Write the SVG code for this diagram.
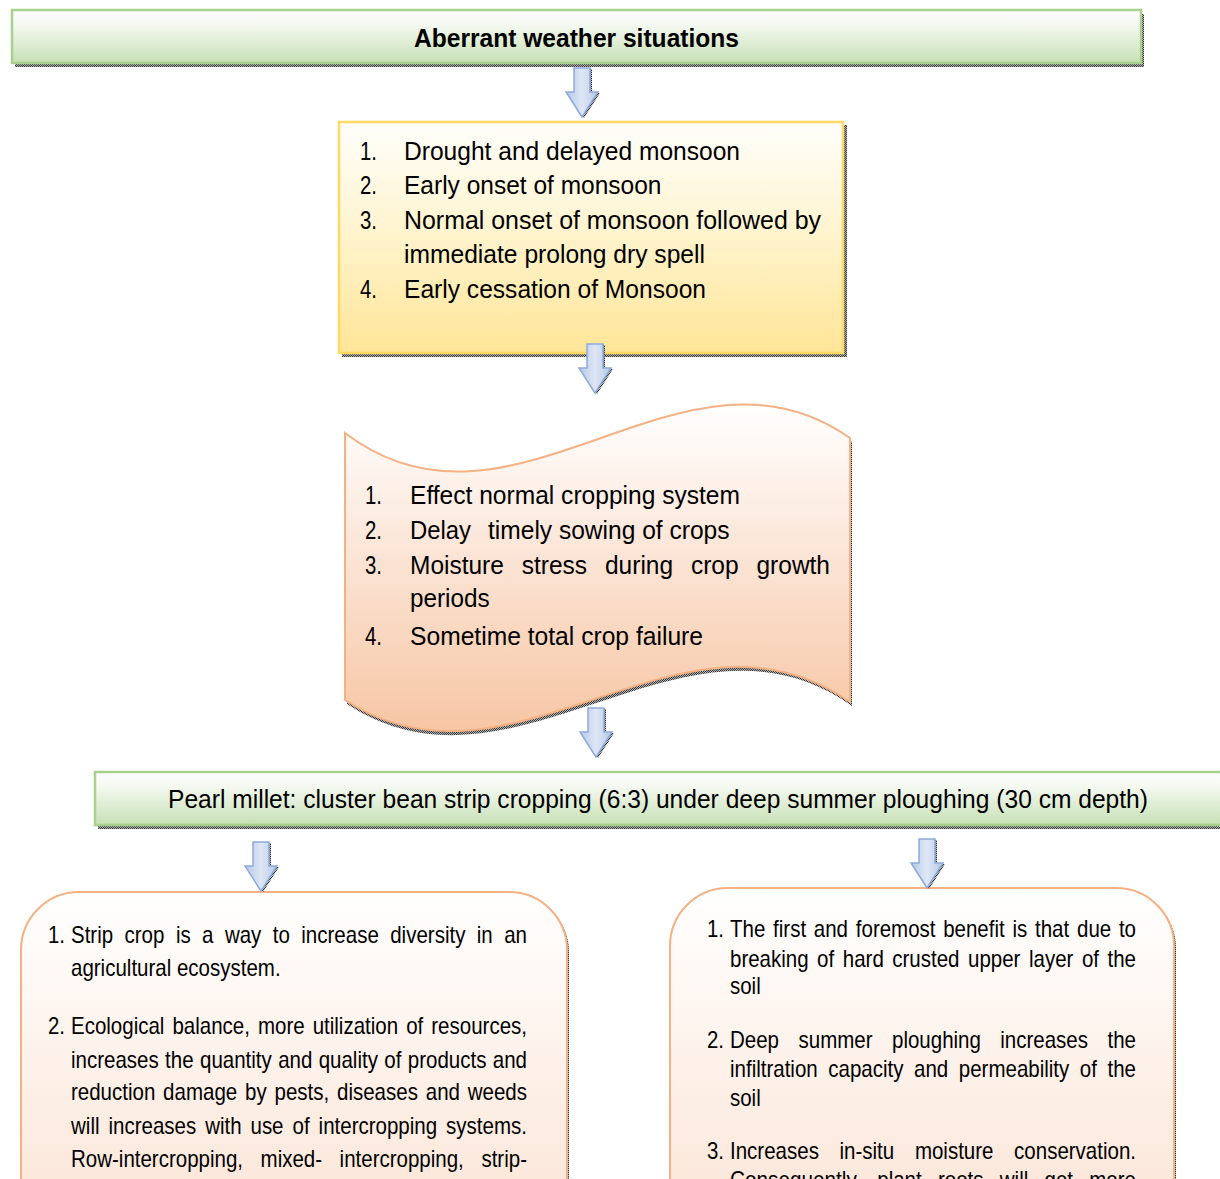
<svg xmlns="http://www.w3.org/2000/svg" xmlns:xlink="http://www.w3.org/1999/xlink" width="1220" height="1179" viewBox="0 0 1220 1179">
<style>
.t{font-family:"Liberation Sans Narrow","Liberation Sans",Arial,sans-serif;fill:#000;}
.b{font-weight:bold;}
.s26{font-size:26px;}
.s24{font-size:24px;}
.bar{fill:url(#gGreen);stroke:#a9d18e;stroke-width:2.5;}
.shadow{fill:url(#hatch);}
.arrow{fill:url(#gArrow);stroke:#8eaadb;stroke-width:1.5;stroke-linejoin:miter;}
</style>
<defs>
<pattern id="hatch" width="2" height="2" patternUnits="userSpaceOnUse">
<rect width="2" height="2" fill="#b0b0b0"/>
<rect width="1" height="1" fill="#3a3a3a"/>
<rect x="1" y="1" width="1" height="1" fill="#3a3a3a"/>
</pattern>
<linearGradient id="gGreen" x1="0" y1="0" x2="0" y2="1">
<stop offset="0" stop-color="#fefefe"/>
<stop offset="0.3" stop-color="#f3f8ef"/>
<stop offset="1" stop-color="#c6e0b4"/>
</linearGradient>
<linearGradient id="gYellow" x1="0" y1="0" x2="0" y2="1">
<stop offset="0" stop-color="#fffefb"/>
<stop offset="0.4" stop-color="#fff6d6"/>
<stop offset="1" stop-color="#ffe597"/>
</linearGradient>
<linearGradient id="gPeach" x1="0" y1="0" x2="0" y2="1">
<stop offset="0" stop-color="#ffffff"/>
<stop offset="0.35" stop-color="#fcebe0"/>
<stop offset="1" stop-color="#f7c6a4"/>
</linearGradient>
<linearGradient id="gPeachLight" gradientUnits="userSpaceOnUse" x1="0" y1="890" x2="0" y2="1260">
<stop offset="0" stop-color="#ffffff"/>
<stop offset="1" stop-color="#fbe2d2"/>
</linearGradient>
<linearGradient id="gArrow" x1="0" y1="0" x2="1" y2="0">
<stop offset="0" stop-color="#b4c7e7"/>
<stop offset="0.5" stop-color="#dfe7f6"/>
<stop offset="1" stop-color="#b4c7e7"/>
</linearGradient>
<path id="arr" d="M-8,0 H8 V24 H16 L0,49 L-16,24 H-8 Z"/>
<path id="wave" d="M345,433 C513,561 682,320 850,438 L850,702 C682,584 513,810 345,700 Z"/>
</defs>

<g id="node-aberrant">
<rect class="shadow" x="15" y="14" width="1129" height="53"/>
<rect class="bar" x="12" y="10" width="1129" height="53"/>
<text class="t b s26" x="414" y="47" textLength="325" lengthAdjust="spacingAndGlyphs">Aberrant weather situations</text>
</g>

<g id="node-situations">
<rect class="shadow" x="342" y="125" width="505" height="232"/>
<rect x="339" y="122" width="504" height="231" fill="url(#gYellow)" stroke="#ffd966" stroke-width="2.5"/>
<text class="t s26" x="360" y="160" textLength="17" lengthAdjust="spacingAndGlyphs">1.</text>
<text class="t s26" x="404" y="160" textLength="336" lengthAdjust="spacingAndGlyphs">Drought and delayed monsoon</text>
<text class="t s26" x="360" y="194" textLength="17" lengthAdjust="spacingAndGlyphs">2.</text>
<text class="t s26" x="404" y="194" textLength="257.5" lengthAdjust="spacingAndGlyphs">Early onset of monsoon</text>
<text class="t s26" x="360" y="229" textLength="17" lengthAdjust="spacingAndGlyphs">3.</text>
<text class="t s26" x="404" y="229" textLength="417" lengthAdjust="spacingAndGlyphs">Normal onset of monsoon followed by</text>
<text class="t s26" x="404" y="263" textLength="301" lengthAdjust="spacingAndGlyphs">immediate prolong dry spell</text>
<text class="t s26" x="360" y="298" textLength="17" lengthAdjust="spacingAndGlyphs">4.</text>
<text class="t s26" x="404" y="298" textLength="302" lengthAdjust="spacingAndGlyphs">Early cessation of Monsoon</text>
</g>

<g id="node-effects">
<use href="#wave" class="shadow" transform="translate(2,4)"/>
<use href="#wave" fill="url(#gPeach)" stroke="#f4b183" stroke-width="2"/>
<text class="t s26" x="365" y="504" textLength="17" lengthAdjust="spacingAndGlyphs">1.</text>
<text class="t s26" x="410" y="504" textLength="330" lengthAdjust="spacingAndGlyphs">Effect normal cropping system</text>
<text class="t s26" x="365" y="539" textLength="17" lengthAdjust="spacingAndGlyphs">2.</text>
<text class="t s26" y="539"><tspan x="410" textLength="61" lengthAdjust="spacingAndGlyphs">Delay</tspan> <tspan x="488" textLength="241.5" lengthAdjust="spacingAndGlyphs">timely sowing of crops</tspan></text>
<text class="t s26" x="365" y="574" textLength="17" lengthAdjust="spacingAndGlyphs">3.</text>
<text class="t s26" y="574"><tspan x="410" textLength="93.9" lengthAdjust="spacingAndGlyphs">Moisture</tspan> <tspan x="521.8" textLength="65.3" lengthAdjust="spacingAndGlyphs">stress</tspan> <tspan x="605" textLength="68.1" lengthAdjust="spacingAndGlyphs">during</tspan> <tspan x="690.9" textLength="47.7" lengthAdjust="spacingAndGlyphs">crop</tspan> <tspan x="756.5" textLength="73.5" lengthAdjust="spacingAndGlyphs">growth</tspan></text>
<text class="t s26" x="410" y="607" textLength="79.6" lengthAdjust="spacingAndGlyphs">periods</text>
<text class="t s26" x="365" y="645" textLength="17" lengthAdjust="spacingAndGlyphs">4.</text>
<text class="t s26" x="410" y="645" textLength="293" lengthAdjust="spacingAndGlyphs">Sometime total crop failure</text>
</g>

<g id="node-pearl-millet">
<rect class="shadow" x="98" y="776" width="1130" height="53"/>
<rect class="bar" x="95" y="772" width="1135" height="53"/>
<text class="t s26" x="168" y="808" textLength="980" lengthAdjust="spacingAndGlyphs">Pearl millet: cluster bean strip cropping (6:3) under deep summer ploughing (30 cm depth)</text>
</g>

<g id="node-strip-crop">
<rect class="shadow" x="23" y="894" width="546" height="400" rx="58"/>
<rect x="21" y="892" width="546" height="400" rx="58" fill="url(#gPeachLight)" stroke="#f4b183" stroke-width="2"/>
<text class="t s24" x="48" y="943" textLength="17" lengthAdjust="spacingAndGlyphs">1.</text>
<text class="t s24" y="943"><tspan x="71" textLength="42.1" lengthAdjust="spacingAndGlyphs">Strip</tspan> <tspan x="124.5" textLength="39.9" lengthAdjust="spacingAndGlyphs">crop</tspan> <tspan x="175.9" textLength="14.8" lengthAdjust="spacingAndGlyphs">is</tspan> <tspan x="202.1" textLength="11.4" lengthAdjust="spacingAndGlyphs">a</tspan> <tspan x="224.9" textLength="36.4" lengthAdjust="spacingAndGlyphs">way</tspan> <tspan x="272.8" textLength="17.1" lengthAdjust="spacingAndGlyphs">to</tspan> <tspan x="301.3" textLength="77.5" lengthAdjust="spacingAndGlyphs">increase</tspan> <tspan x="390.2" textLength="75.2" lengthAdjust="spacingAndGlyphs">diversity</tspan> <tspan x="476.8" textLength="15.9" lengthAdjust="spacingAndGlyphs">in</tspan> <tspan x="504.2" textLength="22.8" lengthAdjust="spacingAndGlyphs">an</tspan></text>
<text class="t s24" x="71" y="976" textLength="209.6" lengthAdjust="spacingAndGlyphs">agricultural ecosystem.</text>
<text class="t s24" x="48" y="1034" textLength="17" lengthAdjust="spacingAndGlyphs">2.</text>
<text class="t s24" y="1034"><tspan x="71" textLength="93.4" lengthAdjust="spacingAndGlyphs">Ecological</tspan> <tspan x="172.4" textLength="77.5" lengthAdjust="spacingAndGlyphs">balance,</tspan> <tspan x="258" textLength="46.7" lengthAdjust="spacingAndGlyphs">more</tspan> <tspan x="312.7" textLength="85.4" lengthAdjust="spacingAndGlyphs">utilization</tspan> <tspan x="406.2" textLength="17.1" lengthAdjust="spacingAndGlyphs">of</tspan> <tspan x="431.3" textLength="95.7" lengthAdjust="spacingAndGlyphs">resources,</tspan></text>
<text class="t s24" y="1068"><tspan x="71" textLength="87.7" lengthAdjust="spacingAndGlyphs">increases</tspan> <tspan x="165.1" textLength="28.5" lengthAdjust="spacingAndGlyphs">the</tspan> <tspan x="200" textLength="71.8" lengthAdjust="spacingAndGlyphs">quantity</tspan> <tspan x="278.2" textLength="34.2" lengthAdjust="spacingAndGlyphs">and</tspan> <tspan x="318.7" textLength="59.2" lengthAdjust="spacingAndGlyphs">quality</tspan> <tspan x="384.3" textLength="17.1" lengthAdjust="spacingAndGlyphs">of</tspan> <tspan x="407.8" textLength="78.6" lengthAdjust="spacingAndGlyphs">products</tspan> <tspan x="492.8" textLength="34.2" lengthAdjust="spacingAndGlyphs">and</tspan></text>
<text class="t s24" y="1100"><tspan x="71" textLength="84.3" lengthAdjust="spacingAndGlyphs">reduction</tspan> <tspan x="163.1" textLength="74.1" lengthAdjust="spacingAndGlyphs">damage</tspan> <tspan x="245.1" textLength="21.6" lengthAdjust="spacingAndGlyphs">by</tspan> <tspan x="274.5" textLength="54.7" lengthAdjust="spacingAndGlyphs">pests,</tspan> <tspan x="337" textLength="80.9" lengthAdjust="spacingAndGlyphs">diseases</tspan> <tspan x="425.8" textLength="34.2" lengthAdjust="spacingAndGlyphs">and</tspan> <tspan x="467.8" textLength="59.2" lengthAdjust="spacingAndGlyphs">weeds</tspan></text>
<text class="t s24" y="1134"><tspan x="71" textLength="28.5" lengthAdjust="spacingAndGlyphs">will</tspan> <tspan x="108.5" textLength="87.7" lengthAdjust="spacingAndGlyphs">increases</tspan> <tspan x="205.2" textLength="36.4" lengthAdjust="spacingAndGlyphs">with</tspan> <tspan x="250.5" textLength="33" lengthAdjust="spacingAndGlyphs">use</tspan> <tspan x="292.5" textLength="17.1" lengthAdjust="spacingAndGlyphs">of</tspan> <tspan x="318.6" textLength="118.5" lengthAdjust="spacingAndGlyphs">intercropping</tspan> <tspan x="446.1" textLength="80.9" lengthAdjust="spacingAndGlyphs">systems.</tspan></text>
<text class="t s24" y="1167"><tspan x="71" textLength="172" lengthAdjust="spacingAndGlyphs">Row-intercropping,</tspan> <tspan x="260.6" textLength="61.5" lengthAdjust="spacingAndGlyphs">mixed-</tspan> <tspan x="339.6" textLength="124.2" lengthAdjust="spacingAndGlyphs">intercropping,</tspan> <tspan x="481.4" textLength="45.6" lengthAdjust="spacingAndGlyphs">strip-</tspan></text>
</g>

<g id="node-deep-ploughing">
<rect class="shadow" x="672" y="890" width="504" height="400" rx="58"/>
<rect x="670" y="888" width="504" height="400" rx="58" fill="url(#gPeachLight)" stroke="#f4b183" stroke-width="2"/>
<text class="t s24" x="707" y="937" textLength="17" lengthAdjust="spacingAndGlyphs">1.</text>
<text class="t s24" y="937"><tspan x="730" textLength="35.3" lengthAdjust="spacingAndGlyphs">The</tspan> <tspan x="773.1" textLength="33" lengthAdjust="spacingAndGlyphs">first</tspan> <tspan x="813.8" textLength="34.2" lengthAdjust="spacingAndGlyphs">and</tspan> <tspan x="855.8" textLength="79.7" lengthAdjust="spacingAndGlyphs">foremost</tspan> <tspan x="943.2" textLength="61.5" lengthAdjust="spacingAndGlyphs">benefit</tspan> <tspan x="1012.5" textLength="14.8" lengthAdjust="spacingAndGlyphs">is</tspan> <tspan x="1035" textLength="34.2" lengthAdjust="spacingAndGlyphs">that</tspan> <tspan x="1077" textLength="34.2" lengthAdjust="spacingAndGlyphs">due</tspan> <tspan x="1118.9" textLength="17.1" lengthAdjust="spacingAndGlyphs">to</tspan></text>
<text class="t s24" y="967"><tspan x="730" textLength="78.6" lengthAdjust="spacingAndGlyphs">breaking</tspan> <tspan x="817.1" textLength="17.1" lengthAdjust="spacingAndGlyphs">of</tspan> <tspan x="842.8" textLength="41" lengthAdjust="spacingAndGlyphs">hard</tspan> <tspan x="892.3" textLength="67.2" lengthAdjust="spacingAndGlyphs">crusted</tspan> <tspan x="968" textLength="52.4" lengthAdjust="spacingAndGlyphs">upper</tspan> <tspan x="1029" textLength="44.4" lengthAdjust="spacingAndGlyphs">layer</tspan> <tspan x="1081.9" textLength="17.1" lengthAdjust="spacingAndGlyphs">of</tspan> <tspan x="1107.5" textLength="28.5" lengthAdjust="spacingAndGlyphs">the</tspan></text>
<text class="t s24" x="730" y="994" textLength="30.7" lengthAdjust="spacingAndGlyphs">soil</text>
<text class="t s24" x="707" y="1048" textLength="17" lengthAdjust="spacingAndGlyphs">2.</text>
<text class="t s24" y="1048"><tspan x="730" textLength="49" lengthAdjust="spacingAndGlyphs">Deep</tspan> <tspan x="798.5" textLength="74" lengthAdjust="spacingAndGlyphs">summer</tspan> <tspan x="892" textLength="88.9" lengthAdjust="spacingAndGlyphs">ploughing</tspan> <tspan x="1000.3" textLength="87.7" lengthAdjust="spacingAndGlyphs">increases</tspan> <tspan x="1107.5" textLength="28.5" lengthAdjust="spacingAndGlyphs">the</tspan></text>
<text class="t s24" y="1077"><tspan x="730" textLength="87.7" lengthAdjust="spacingAndGlyphs">infiltration</tspan> <tspan x="828.3" textLength="75.2" lengthAdjust="spacingAndGlyphs">capacity</tspan> <tspan x="914" textLength="34.2" lengthAdjust="spacingAndGlyphs">and</tspan> <tspan x="958.8" textLength="110.5" lengthAdjust="spacingAndGlyphs">permeability</tspan> <tspan x="1079.8" textLength="17.1" lengthAdjust="spacingAndGlyphs">of</tspan> <tspan x="1107.5" textLength="28.5" lengthAdjust="spacingAndGlyphs">the</tspan></text>
<text class="t s24" x="730" y="1106" textLength="30.7" lengthAdjust="spacingAndGlyphs">soil</text>
<text class="t s24" x="707" y="1159" textLength="17" lengthAdjust="spacingAndGlyphs">3.</text>
<text class="t s24" y="1159"><tspan x="730" textLength="88.9" lengthAdjust="spacingAndGlyphs">Increases</tspan> <tspan x="839.5" textLength="54.7" lengthAdjust="spacingAndGlyphs">in-situ</tspan> <tspan x="914.9" textLength="78.6" lengthAdjust="spacingAndGlyphs">moisture</tspan> <tspan x="1014.1" textLength="121.9" lengthAdjust="spacingAndGlyphs">conservation.</tspan></text>
<text class="t s24" y="1188"><tspan x="730" textLength="131" lengthAdjust="spacingAndGlyphs">Consequently,</tspan> <tspan x="877.3" textLength="44.4" lengthAdjust="spacingAndGlyphs">plant</tspan> <tspan x="937.9" textLength="45.6" lengthAdjust="spacingAndGlyphs">roots</tspan> <tspan x="999.8" textLength="28.5" lengthAdjust="spacingAndGlyphs">will</tspan> <tspan x="1044.5" textLength="28.5" lengthAdjust="spacingAndGlyphs">get</tspan> <tspan x="1089.3" textLength="46.7" lengthAdjust="spacingAndGlyphs">more</tspan></text>
</g>

<g id="connectors">
<use href="#arr" class="shadow" transform="translate(584,69)"/>
<use href="#arr" class="arrow" transform="translate(582,68)"/>
<use href="#arr" class="shadow" transform="translate(597,345)"/>
<use href="#arr" class="arrow" transform="translate(595,344)"/>
<use href="#arr" class="shadow" transform="translate(598,709)"/>
<use href="#arr" class="arrow" transform="translate(596,708)"/>
<use href="#arr" class="shadow" transform="translate(263,843)"/>
<use href="#arr" class="arrow" transform="translate(261,842)"/>
<use href="#arr" class="shadow" transform="translate(929,840)"/>
<use href="#arr" class="arrow" transform="translate(927,839)"/>
</g>
</svg>
